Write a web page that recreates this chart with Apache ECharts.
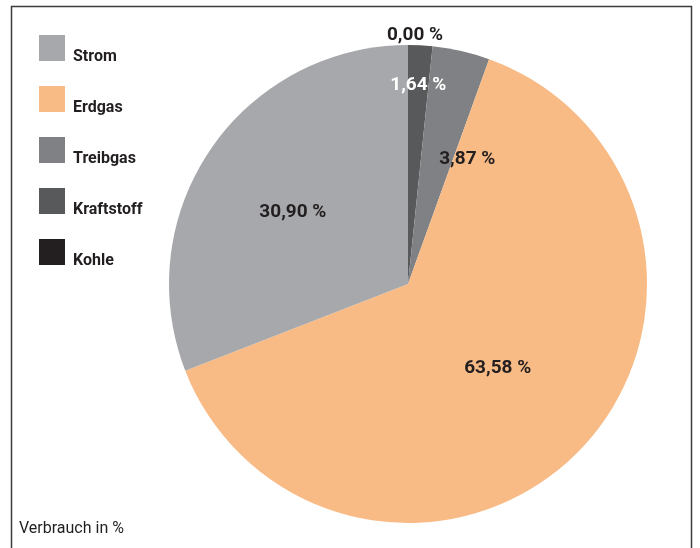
<!DOCTYPE html>
<html>
<head>
<meta charset="utf-8">
<script src="https://cdn.jsdelivr.net/npm/echarts@6/dist/echarts.min.js"></script>
<style>
  html, body { margin: 0; padding: 0; background: #fff; }
  #chart { width: 700px; height: 548px; }
</style>
</head>
<body>
<div id="chart"></div>
<script>
// Energy consumption shares (percent), clockwise from 12 o'clock
const categories = ['Kohle', 'Kraftstoff', 'Treibgas', 'Erdgas', 'Strom'];
const shares = [0.00, 1.64, 3.87, 63.58, 30.90];
const legendOrder = ['Strom', 'Erdgas', 'Treibgas', 'Kraftstoff', 'Kohle'];
const caption = 'Verbrauch in %';

const colors = {
  Strom: '#a7a8ab',
  Erdgas: '#f9bb85',
  Treibgas: '#808184',
  Kraftstoff: '#58595b',
  Kohle: '#231f20'
};
// label tweaks per slice (offset from the default inside anchor)
const labelTweaks = {
  Strom: { offset: [-14, -3], color: '#231f20' },
  Erdgas: { offset: [2, -1], color: '#231f20' },
  Treibgas: { offset: [32, -5], color: '#231f20' },
  Kraftstoff: { offset: [4, -76], color: '#ffffff' },
  Kohle: { offset: [7, -126], color: '#231f20' }
};

const FONT = "Roboto, 'Noto Sans', sans-serif";
const fmt = v => v.toFixed(2).replace('.', ',') + ' %';

const chart = echarts.init(document.getElementById('chart'), null, { renderer: 'canvas' });

chart.setOption({
  animation: false,
  backgroundColor: '#ffffff',
  legend: {
    data: legendOrder,
    orient: 'vertical',
    left: 34,
    top: 30,
    itemWidth: 26,
    itemHeight: 26,
    itemGap: 21,
    icon: 'rect',
    selectedMode: false,
    formatter: name => '{t|' + name + '}',
    textStyle: {
      rich: {
        t: {
          fontFamily: FONT,
          fontWeight: 'bold',
          fontSize: 16,
          color: '#231f20',
          padding: [18, 0, 0, 3]
        }
      }
    }
  },
  graphic: [
    {
      type: 'rect',
      shape: { x: 11.5, y: 6.5, width: 680, height: 560 },
      style: { fill: 'none', stroke: '#3c3c3c', lineWidth: 1.5 },
      silent: true
    },
    {
      type: 'text',
      x: 19,
      y: 529,
      style: {
        text: caption,
        font: "16px " + FONT,
        fill: '#231f20',
        verticalAlign: 'middle'
      },
      silent: true
    }
  ],
  series: [{
    type: 'pie',
    center: [408, 284],
    radius: [0, 239],
    startAngle: 90,
    clockwise: true,
    avoidLabelOverlap: false,
    emphasis: { disabled: true },
    itemStyle: { borderWidth: 0 },
    label: {
      show: true,
      position: 'inside',
      fontFamily: FONT,
      fontWeight: 'bold',
      fontSize: 19,
      formatter: p => fmt(p.value)
    },
    labelLine: { show: false },
    data: categories.map((name, i) => ({
      name: name,
      value: shares[i],
      itemStyle: { color: colors[name] },
      label: labelTweaks[name]
    }))
  }]
});
</script>
</body>
</html>
